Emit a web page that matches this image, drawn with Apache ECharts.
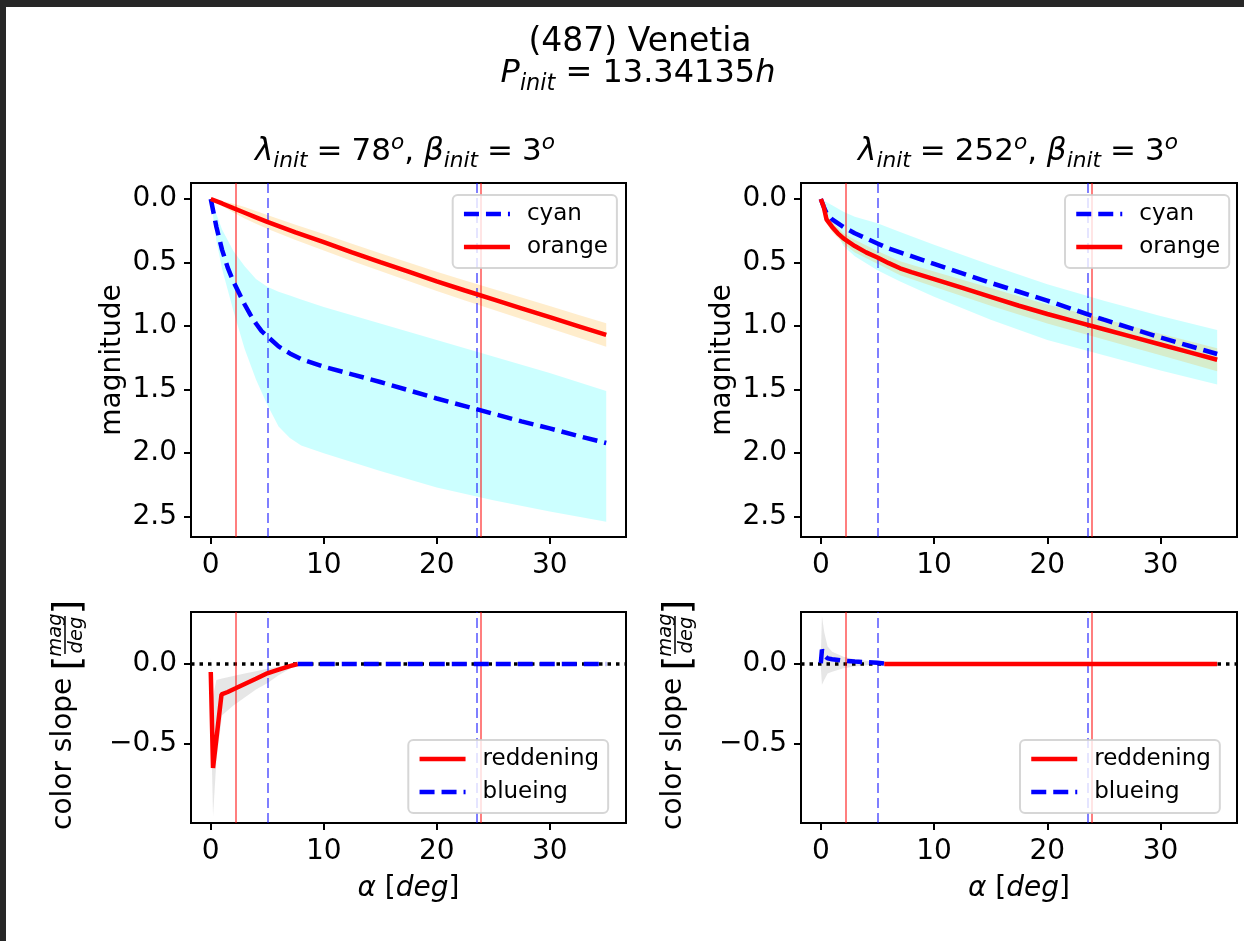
<!DOCTYPE html>
<html>
<head>
<meta charset="utf-8">
<script src="https://cdn.jsdelivr.net/npm/echarts@6/dist/echarts.min.js"></script>
<style>
html,body{margin:0;padding:0;background:#fff;}
#chart{position:absolute;left:0;top:0;width:1244px;height:941px;}
.strip{position:absolute;background:#272727;pointer-events:none;}
</style>
</head>
<body>
<div id="chart"></div>
<div class="strip" style="left:0;top:0;width:1244px;height:7px;"></div>
<div class="strip" style="left:0;top:0;width:6px;height:941px;"></div>
<script>
const FONT = 'DejaVu Sans';

// ---- tick values ----
const xTicks = [0, 10, 20, 30];
const magTicks = [0, 0.5, 1, 1.5, 2, 2.5];
const slopeTicks = [-0.5, 0];

// ---- vertical reference lines (deg) ----
const vRed = [2.2, 23.9];
const vBlue = [5.0, 23.55];

// ---- top-left: lambda=78, beta=3 ----
const tlOrangeX = [0,1,2,3,4,5,7.5,10,12.5,15,17.5,20,22.5,25,27.5,30,32.5,35];
const tlOrangeY = [0,0.035,0.072,0.108,0.144,0.18,0.262,0.34,0.42,0.497,0.572,0.648,0.72,0.79,0.86,0.93,1.0,1.07];
const tlOrangeUp = [0,0.015,0.037,0.063,0.094,0.125,0.202,0.275,0.352,0.427,0.499,0.572,0.641,0.708,0.775,0.842,0.91,0.978];
const tlOrangeLo = [0,0.055,0.107,0.153,0.194,0.235,0.322,0.405,0.488,0.567,0.645,0.724,0.799,0.872,0.945,1.018,1.09,1.162];
const tlCyanX = [0,0.5,1,1.5,2,2.5,3,3.5,4,4.5,5,6,7,8,10,12.5,15,17.5,20,22.5,25,27.5,30,32.5,35];
const tlCyanY = [0,0.22,0.4,0.54,0.65,0.74,0.83,0.91,0.98,1.04,1.08,1.16,1.215,1.26,1.32,1.38,1.44,1.505,1.57,1.63,1.69,1.75,1.805,1.865,1.92];
const tlCyanBandX = [0,0.5,1,2,3,4,5,6,7,8,10,15,20,25,30,35];
const tlCyanUp = [0,0.12,0.24,0.41,0.53,0.63,0.69,0.73,0.76,0.79,0.85,0.98,1.11,1.24,1.37,1.51];
const tlCyanLo = [0,0.33,0.55,0.88,1.18,1.42,1.62,1.79,1.88,1.94,2.0,2.14,2.27,2.37,2.46,2.54];

// ---- top-right: lambda=252, beta=3 ----
const trOrangeX = [0,0.25,0.5,1,1.5,2,3,4,5,6,7,8,10,12.5,15,17.5,20,22.5,25,27.5,30,32.5,35];
const trOrangeY = [0,0.06,0.16,0.22,0.27,0.31,0.37,0.42,0.46,0.505,0.545,0.575,0.63,0.70,0.77,0.84,0.905,0.965,1.025,1.085,1.145,1.205,1.265];
const trCyanX = [0,0.25,0.5,1,2,3,4,5,6,7,8,10,12.5,15,17.5,20,22.5,25,27.5,30,32.5,35];
const trCyanY = [0,0.06,0.11,0.16,0.22,0.27,0.31,0.35,0.39,0.42,0.45,0.51,0.585,0.66,0.73,0.80,0.875,0.95,1.02,1.09,1.155,1.22];
const trCyanBandX = [0,1,2,3,5,7,10,15,20,25,30,35];
const trCyanUp = [0,0.05,0.1,0.14,0.19,0.26,0.36,0.52,0.67,0.80,0.92,1.03];
const trCyanLo = [0,0.2,0.37,0.45,0.56,0.65,0.77,0.95,1.11,1.23,1.35,1.46];
const trOrangeBandX = [0,0.5,1,2,3,5,7,10,15,20,25,30,35];
const trOrangeUp = [0,0.13,0.18,0.27,0.32,0.41,0.49,0.57,0.70,0.83,0.945,1.06,1.175];
const trOrangeLo = [0,0.19,0.26,0.35,0.42,0.51,0.60,0.69,0.84,0.98,1.105,1.23,1.355];

// ---- bottom-left: colour slope ----
const blRedX = [0,0.2,0.95,1.5,2.2,3,4,5,6,7,7.7];
const blRedY = [-0.05,-0.65,-0.19,-0.175,-0.152,-0.125,-0.092,-0.058,-0.035,-0.013,0];
const blBlueX = [7.7,10,15,20,25,30,35];
const blBlueY = [0,0,0,0,0,0,0];
const blGrayX = [0,0.2,0.5,1,2,3,4,5,6,7,7.7];
const blGrayUp = [0.04,-0.2,-0.1,-0.09,-0.075,-0.06,-0.045,-0.03,-0.015,-0.005,0];
const blGrayLo = [-0.3,-0.95,-0.6,-0.32,-0.26,-0.21,-0.16,-0.12,-0.07,-0.03,0];

// ---- bottom-right: colour slope ----
const brBlueX = [0,0.1,0.3,0.6,1,2,3,4,5,5.6];
const brBlueY = [0.005,0.09,0.055,0.035,0.03,0.02,0.015,0.012,0.008,0.003];
const brRedX = [5.6,10,15,20,25,30,35];
const brRedY = [0,0,0,0,0,0,0];
const brGrayX = [0,0.1,0.3,0.6,1,2,3,4,5,5.6];
const brGrayUp = [0.05,0.30,0.2,0.11,0.077,0.045,0.03,0.02,0.012,0.003];
const brGrayLo = [-0.02,-0.13,-0.1,-0.06,-0.048,-0.027,-0.015,-0.008,-0.003,0.003];

// ---------------------------------------------------------------
const RED = '#ff0000', BLUE = '#0000ff';
const LW = 4.5;
const DASH = [15, 7];
function pairs(xs, ys) { return xs.map((x, i) => [x, ys[i]]); }

function band(name, idx, xs, up, lo, color) {
  return {
    type: 'custom', name: name, xAxisIndex: idx, yAxisIndex: idx, z: 1, silent: true, clip: true,
    data: [[xs[0], up[0]]],
    renderItem: function (params, api) {
      const pts = [];
      for (let i = 0; i < xs.length; i++) pts.push(api.coord([xs[i], up[i]]));
      for (let i = xs.length - 1; i >= 0; i--) pts.push(api.coord([xs[i], lo[i]]));
      return { type: 'polygon', shape: { points: pts }, style: { fill: color } };
    }
  };
}
function line(name, idx, xs, ys, color, dashed) {
  return {
    type: 'line', name: name, xAxisIndex: idx, yAxisIndex: idx, z: 3,
    data: pairs(xs, ys), symbol: 'none', showSymbol: false, silent: true,
    lineStyle: { color: color, width: LW, type: dashed ? DASH : 'solid' },
    itemStyle: { color: color }, emphasis: { disabled: true }
  };
}
function vlines(idx, withZero) {
  const d = [];
  if (withZero) d.push({ yAxis: 0, lineStyle: { color: '#000', width: 3.5, type: [3.5, 5] } });
  vRed.forEach(v => d.push({ xAxis: v, lineStyle: { color: 'rgba(255,0,0,0.5)', width: 2, type: 'solid' } }));
  vBlue.forEach(v => d.push({ xAxis: v, lineStyle: { color: 'rgba(0,0,255,0.5)', width: 2, type: [10, 5] } }));
  return {
    type: 'line', name: 'ref' + idx, xAxisIndex: idx, yAxisIndex: idx, data: [], z: 2,
    markLine: { silent: true, z: 2, symbol: ['none', 'none'], label: { show: false },
      emphasis: { disabled: true }, data: d }
  };
}

const grids = [
  { left: 191, top: 183, width: 435, height: 354 },
  { left: 801, top: 183, width: 436, height: 354 },
  { left: 191, top: 612, width: 435, height: 211 },
  { left: 801, top: 612, width: 436, height: 211 }
].map(g => Object.assign({ show: true, borderColor: '#000', borderWidth: 2, backgroundColor: 'transparent', outerBoundsMode: 'none' }, g));

function xAxis(i) {
  return {
    type: 'value', gridIndex: i, min: -1.75, max: 36.75,
    axisLine: { show: true, onZero: false, lineStyle: { color: '#000', width: 2 } },
    axisTick: { show: true, length: 7, customValues: xTicks, lineStyle: { color: '#000', width: 2 } },
    axisLabel: { show: true, customValues: xTicks, fontSize: 28, fontFamily: FONT, color: '#000', margin: 15,
      formatter: v => String(v) },
    splitLine: { show: false },
    name: i >= 2 ? '{i|α} [{i|deg}]' : '', nameLocation: 'middle', nameGap: 52,
    nameTextStyle: { fontSize: 28, fontFamily: FONT, color: '#000',
      rich: { i: { fontStyle: 'italic', fontSize: 28, fontFamily: FONT, color: '#000' } } }
  };
}
function yAxis(i) {
  const top = i < 2;
  return {
    type: 'value', gridIndex: i, inverse: top,
    min: top ? -0.126 : -0.994, max: top ? 2.66 : 0.325,
    axisLine: { show: true, onZero: false, lineStyle: { color: '#000', width: 2 } },
    axisTick: { show: true, length: 7, customValues: top ? magTicks : slopeTicks, lineStyle: { color: '#000', width: 2 } },
    axisLabel: { show: true, customValues: top ? magTicks : slopeTicks, fontSize: 28, fontFamily: FONT, color: '#000', margin: 14,
      formatter: v => (v < 0 ? '\u2212' : '') + Math.abs(v).toFixed(1) },
    splitLine: { show: false },
    name: top ? 'magnitude' : '', nameLocation: 'middle', nameGap: 64, nameRotate: 90,
    nameTextStyle: { fontSize: 28, fontFamily: FONT, color: '#000' }
  };
}

function legend(left, top, names, styles) {
  return {
    show: true, selectedMode: false, orient: 'vertical', left: left, top: top, z: 10,
    padding: [6, 9, 8, 9], itemGap: 7, itemWidth: 46, itemHeight: 14,
    backgroundColor: 'rgba(255,255,255,0.8)', borderColor: 'rgba(204,204,204,0.8)', borderWidth: 2, borderRadius: 5,
    data: names.map((n, k) => ({ name: n, lineStyle: styles[k], itemStyle: { opacity: 0 } })),
    formatter: n => '{t|' + n + '}',
    textStyle: { color: '#000', fontSize: 23, fontFamily: FONT, lineHeight: 26,
      rich: { t: { padding: [0, 0, 0, 12], fontSize: 23, fontFamily: FONT, color: '#000', lineHeight: 26 } } }
  };
}
const dashStyle = { color: BLUE, width: LW, type: DASH };
const solidStyle = { color: RED, width: LW, type: 'solid' };

function richTitle(fs, eqPad) {
  const base = { fontSize: fs, fontFamily: FONT, fill: '#000', lineHeight: Math.round(fs * 1.3), verticalAlign: 'middle' };
  return {
    n: base,
    e: Object.assign({}, base, { padding: [0, eqPad, 0, eqPad] }),
    i: Object.assign({}, base, { fontStyle: 'italic' }),
    s: { fontSize: fs * 0.7, fontFamily: FONT, fill: '#000', fontStyle: 'italic', lineHeight: fs * 0.7, verticalAlign: 'bottom' },
    p: { fontSize: fs * 0.7, fontFamily: FONT, fill: '#000', fontStyle: 'italic', lineHeight: fs * 0.87, verticalAlign: 'top' }
  };
}
function slopeLabel(x) {
  const t = (txt, lx, ly, fs, italic, align) => ({
    type: 'text', x: lx, y: ly, silent: true,
    style: { text: txt, fontSize: fs, fontFamily: FONT, fontStyle: italic ? 'italic' : 'normal', fill: '#000',
      align: align || 'center', verticalAlign: 'middle' }
  });
  return {
    type: 'group', x: x, y: 717, rotation: Math.PI / 2, silent: true,
    children: [
      t('color slope', -113, 0, 28, false, 'left'),
      t('[', 54, 5, 38, false),
      t('mag', 82, -8, 19.5, true),
      { type: 'line', silent: true, shape: { x1: 63, y1: 1, x2: 101, y2: 1 }, style: { stroke: '#000', lineWidth: 1.5 } },
      t('deg', 82, 13, 19.5, true),
      t(']', 110, 5, 38, false)
    ]
  };
}

const option = {
  animation: false,
  backgroundColor: '#fff',
  textStyle: { fontFamily: FONT },
  grid: grids,
  xAxis: [0, 1, 2, 3].map(xAxis),
  yAxis: [0, 1, 2, 3].map(yAxis),
  legend: [
    legend(452.7, 195, ['cyan', 'orange'], [dashStyle, solidStyle]),
    legend(1065, 195, ['cyan', 'orange'], [dashStyle, solidStyle]),
    legend(408.3, 740, ['reddening', 'blueing'], [solidStyle, dashStyle]),
    legend(1020, 740, ['reddening', 'blueing'], [solidStyle, dashStyle])
  ],
  graphic: [
    { type: 'text', x: 640, y: 42, silent: true,
      style: { text: '(487) Venetia', fontSize: 33, fontFamily: FONT, fill: '#000', align: 'center', verticalAlign: 'middle' } },
    { type: 'text', x: 638, y: 74, silent: true,
      style: { text: '{i|P}{s|init}{n| = 13.34135}{i|h}', rich: richTitle(32, 0), fill: '#000', align: 'center', verticalAlign: 'middle' } },
    { type: 'text', x: 405, y: 152, silent: true,
      style: { text: '{i|λ}{s|init}{e|=}{n|78}{p|o}{n|, }{i|β}{s|init}{e|=}{n|3}{p|o}', rich: richTitle(31, 9), fill: '#000', align: 'center', verticalAlign: 'middle' } },
    { type: 'text', x: 1018, y: 152, silent: true,
      style: { text: '{i|λ}{s|init}{e|=}{n|252}{p|o}{n|, }{i|β}{s|init}{e|=}{n|3}{p|o}', rich: richTitle(31, 9), fill: '#000', align: 'center', verticalAlign: 'middle' } },
    slopeLabel(64),
    slopeLabel(674)
  ],
  series: [
    // top-left
    band('cyanBand0', 0, tlCyanBandX, tlCyanUp, tlCyanLo, 'rgba(0,255,255,0.2)'),
    band('orangeBand0', 0, tlOrangeX, tlOrangeUp, tlOrangeLo, 'rgba(255,165,0,0.2)'),
    vlines(0, false),
    line('cyan', 0, tlCyanX, tlCyanY, BLUE, true),
    line('orange', 0, tlOrangeX, tlOrangeY, RED, false),
    // top-right
    band('cyanBand1', 1, trCyanBandX, trCyanUp, trCyanLo, 'rgba(0,255,255,0.2)'),
    band('orangeBand1', 1, trOrangeBandX, trOrangeUp, trOrangeLo, 'rgba(255,165,0,0.2)'),
    vlines(1, false),
    line('cyan', 1, trCyanX, trCyanY, BLUE, true),
    line('orange', 1, trOrangeX, trOrangeY, RED, false),
    // bottom-left
    band('grayBand2', 2, blGrayX, blGrayUp, blGrayLo, 'rgba(128,128,128,0.2)'),
    vlines(2, true),
    line('reddening', 2, blRedX, blRedY, RED, false),
    line('blueing', 2, blBlueX, blBlueY, BLUE, true),
    // bottom-right
    band('grayBand3', 3, brGrayX, brGrayUp, brGrayLo, 'rgba(128,128,128,0.2)'),
    vlines(3, true),
    line('reddening', 3, brRedX, brRedY, RED, false),
    line('blueing', 3, brBlueX, brBlueY, BLUE, true)
  ]
};

const chart = echarts.init(document.getElementById('chart'), null, { renderer: 'canvas' });
chart.setOption(option);
</script>
</body>
</html>
